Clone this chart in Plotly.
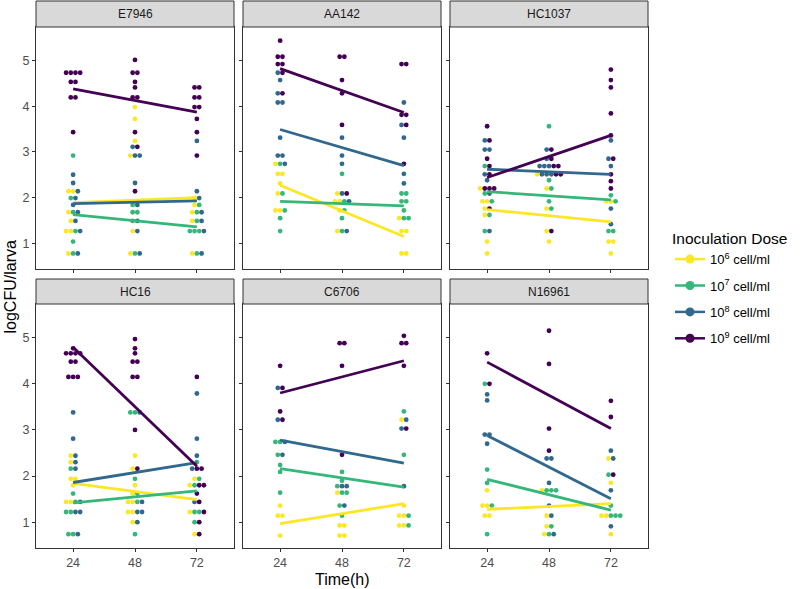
import plotly.graph_objects as go

# ---------------- data ----------------
STRAINS = ["E7946", "AA142", "HC1037", "HC16", "C6706", "N16961"]
TIMES = [24, 48, 72]
DOSES = ["6", "7", "8", "9"]
DOSE_LABELS = ["10<sup>6</sup> cell/ml", "10<sup>7</sup> cell/ml",
               "10<sup>8</sup> cell/ml", "10<sup>9</sup> cell/ml"]
DOSE_COLORS = ["#FDE725", "#35B779", "#31688E", "#440154"]

# rows of stacked dots: (time, logCFU, doses of the dots in that row)
E7946 = [
    (24, 4.73, "9999"), (24, 4.53, "99"), (24, 4.19, "99"), (24, 3.43, "9"), (24, 2.92, "7"),
    (24, 2.50, "8"), (24, 2.32, "8"), (24, 2.14, "668"), (24, 1.99, "78"), (24, 1.84, "8"),
    (24, 1.68, "678"), (24, 1.49, "68"), (24, 1.27, "6678"), (24, 1.04, "7"), (24, 0.78, "678"),
    (48, 5.01, "9"), (48, 4.73, "99"), (48, 4.53, "9"), (48, 4.41, "9"), (48, 4.19, "99"),
    (48, 3.98, "6"), (48, 3.72, "6"), (48, 3.43, "9"), (48, 3.24, "6"), (48, 3.11, "89"),
    (48, 2.92, "688"), (48, 2.32, "8"), (48, 2.14, "9"), (48, 1.84, "78"), (48, 1.68, "77"),
    (48, 1.49, "78"), (48, 1.27, "68"), (48, 0.78, "678"),
    (72, 4.41, "99"), (72, 4.19, "99"), (72, 3.98, "99"), (72, 3.72, "9"), (72, 3.43, "9"),
    (72, 3.24, "8"), (72, 2.92, "9"), (72, 2.14, "8"), (72, 1.99, "68"), (72, 1.84, "67"),
    (72, 1.68, "678"), (72, 1.49, "678"), (72, 1.27, "7778"), (72, 0.78, "678"),
]
AA142 = [
    (24, 5.43, "9"), (24, 5.08, "99"), (24, 4.92, "99"), (24, 4.73, "89"), (24, 4.57, "8"),
    (24, 4.28, "89"), (24, 4.08, "88"), (24, 3.31, "8"), (24, 2.92, "88"), (24, 2.74, "678"),
    (24, 2.52, "66"), (24, 2.31, "6"), (24, 2.09, "67"), (24, 1.72, "667"), (24, 1.55, "7"),
    (24, 1.27, "7"),
    (48, 5.08, "99"), (48, 4.57, "9"), (48, 4.28, "9"), (48, 3.59, "9"), (48, 3.31, "8"),
    (48, 2.92, "8"), (48, 2.74, "8"), (48, 2.52, "7"), (48, 2.09, "689"), (48, 1.92, "6678"),
    (48, 1.72, "67"), (48, 1.55, "7"), (48, 1.27, "678"),
    (72, 4.92, "99"), (72, 4.08, "8"), (72, 3.81, "99"), (72, 3.59, "89"), (72, 3.31, "8"),
    (72, 2.74, "9"), (72, 2.52, "8"), (72, 2.31, "8"), (72, 2.09, "77"), (72, 1.92, "77"),
    (72, 1.72, "7"), (72, 1.55, "677"), (72, 1.27, "66"), (72, 0.78, "66"),
]
HC1037 = [
    (24, 3.56, "9"), (24, 3.25, "89"), (24, 3.05, "88"), (24, 2.85, "9"), (24, 2.69, "79"),
    (24, 2.51, "89"), (24, 2.38, "8"), (24, 2.20, "6999"), (24, 2.09, "78"), (24, 1.92, "667"),
    (24, 1.76, "69"), (24, 1.62, "67"), (24, 1.27, "78"), (24, 1.04, "6"), (24, 0.78, "6"),
    (48, 3.56, "7"), (48, 3.05, "89"), (48, 2.85, "89"), (48, 2.69, "88899"),
    (48, 2.51, "688899"), (48, 2.38, "7"), (48, 2.20, "67"), (48, 1.92, "7"), (48, 1.76, "67"),
    (48, 1.27, "69"), (48, 1.04, "6"),
    (72, 4.80, "9"), (72, 4.57, "9"), (72, 4.41, "9"), (72, 3.84, "9"), (72, 3.36, "9"),
    (72, 3.25, "8"), (72, 2.85, "89"), (72, 2.69, "8"), (72, 2.51, "9"), (72, 2.36, "9"),
    (72, 2.20, "9"), (72, 2.05, "7"), (72, 1.92, "667"), (72, 1.76, "8"), (72, 1.42, "8"),
    (72, 1.27, "77"), (72, 1.04, "66"), (72, 0.78, "6"),
]
HC16 = [
    (24, 4.77, "9"), (24, 4.66, "9999"), (24, 4.48, "99"), (24, 4.15, "999"), (24, 3.38, "8"),
    (24, 2.81, "8"), (24, 2.44, "68"), (24, 2.30, "68"), (24, 2.16, "78"), (24, 1.94, "66"),
    (24, 1.80, "6"), (24, 1.62, "7"), (24, 1.44, "6678"), (24, 1.22, "7788"), (24, 0.74, "778"),
    (48, 4.97, "9"), (48, 4.77, "9"), (48, 4.66, "9"), (48, 4.48, "99"), (48, 4.15, "99"),
    (48, 3.38, "778"), (48, 3.00, "9"), (48, 2.44, "6"), (48, 2.16, "69"), (48, 1.94, "7"),
    (48, 1.80, "6"), (48, 1.62, "67"), (48, 1.44, "6678"), (48, 1.22, "6688"), (48, 1.00, "68"),
    (48, 0.74, "7"),
    (72, 4.15, "9"), (72, 3.79, "8"), (72, 2.81, "8"), (72, 2.44, "8"), (72, 2.30, "7"),
    (72, 2.16, "899"), (72, 1.94, "67"), (72, 1.80, "6799"), (72, 1.62, "9"), (72, 1.44, "89"),
    (72, 1.22, "6779"), (72, 1.00, "79"), (72, 0.74, "69"),
]
C6706 = [
    (24, 4.39, "9"), (24, 3.91, "89"), (24, 3.40, "9"), (24, 3.22, "89"), (24, 2.74, "778"),
    (24, 2.46, "78"), (24, 2.24, "7"), (24, 2.09, "7"), (24, 1.64, "7"), (24, 1.36, "6"),
    (24, 1.14, "66"), (24, 0.71, "6"),
    (48, 4.88, "99"), (48, 4.39, "9"), (48, 2.46, "9"), (48, 2.09, "7"), (48, 1.90, "7"),
    (48, 1.78, "788"), (48, 1.64, "677"), (48, 1.36, "78"), (48, 1.14, "7"), (48, 0.93, "66"),
    (48, 0.71, "66"),
    (72, 5.04, "9"), (72, 4.88, "99"), (72, 4.39, "9"), (72, 3.40, "7"), (72, 3.22, "68"),
    (72, 3.03, "89"), (72, 2.46, "7"), (72, 1.78, "8"), (72, 1.36, "6"), (72, 1.14, "667"),
    (72, 0.93, "667"),
]
N16961 = [
    (24, 4.66, "9"), (24, 4.00, "79"), (24, 3.77, "8"), (24, 3.64, "8"), (24, 2.90, "88"),
    (24, 2.70, "8"), (24, 2.14, "7"), (24, 1.85, "7"), (24, 1.69, "6"), (24, 1.36, "667"),
    (24, 1.14, "66"), (24, 0.74, "7"),
    (48, 5.15, "9"), (48, 4.43, "9"), (48, 3.03, "9"), (48, 2.55, "9"), (48, 2.38, "88"),
    (48, 1.85, "8"), (48, 1.69, "6777"), (48, 1.36, "8"), (48, 1.14, "68"), (48, 0.91, "67"),
    (48, 0.74, "678"),
    (72, 3.63, "9"), (72, 3.28, "9"), (72, 2.55, "8"), (72, 2.38, "68"), (72, 2.03, "79"),
    (72, 1.85, "6"), (72, 1.69, "8"), (72, 1.36, "7"), (72, 1.14, "66777"), (72, 0.91, "8"),
    (72, 0.74, "6"),
]

# linear-trend values at 24 h and 72 h, per dose
FIT_E7946 = {"6": (1.89, 2.00), "7": (1.63, 1.36), "8": (1.87, 1.93), "9": (4.38, 3.87)}
FIT_AA142 = {"6": (2.27, 1.15), "7": (1.92, 1.82), "8": (3.49, 2.70), "9": (4.82, 3.86)}
FIT_HC1037 = {"6": (1.74, 1.47), "7": (2.13, 1.95), "8": (2.62, 2.51), "9": (2.44, 3.36)}
FIT_HC16 = {"6": (1.84, 1.49), "7": (1.42, 1.68), "8": (1.86, 2.29), "9": (4.79, 2.21)}
FIT_C6706 = {"6": (0.97, 1.40), "7": (2.16, 1.76), "8": (2.78, 2.28), "9": (3.80, 4.50)}
FIT_N16961 = {"6": (1.28, 1.40), "7": (1.93, 1.26), "8": (2.88, 1.51), "9": (4.47, 3.03)}

DOTS = [E7946, AA142, HC1037, HC16, C6706, N16961]
FITS = [FIT_E7946, FIT_AA142, FIT_HC1037, FIT_HC16, FIT_C6706, FIT_N16961]

# ---------------- layout constants ----------------
W, H = 800, 589
FONT = "Liberation Sans, Arial, sans-serif"
DX = 1.82          # horizontal dot spacing in x units (hours)
XR = [9.6, 86.4]
YR = [0.44, 5.73]
COL_LEFT = [36, 243, 450]
PANEL_W = 198
ROW_TOP = [27, 304]
ROW_BOT = [269, 548]
STRIP_TOP = [1, 279]

fig = go.Figure()

def pxx(p):
    return p / W

def pxy(p):
    return 1 - p / H

shapes, annotations = [], []
for i, strain in enumerate(STRAINS):
    r, c = divmod(i, 3)
    ax = "" if i == 0 else str(i + 1)
    xa, ya = "x" + ax, "y" + ax
    # dots (centered stacks, ordered by dose)
    xs = {d: [] for d in DOSES}
    ys = {d: [] for d in DOSES}
    for t, v, ds in DOTS[i]:
        ds = "".join(sorted(ds))
        n = len(ds)
        for k, d in enumerate(ds):
            xs[d].append(t + (k - (n - 1) / 2) * DX)
            ys[d].append(v)
    for j, d in enumerate(DOSES):
        fig.add_trace(go.Scatter(
            x=xs[d], y=ys[d], mode="markers", xaxis=xa, yaxis=ya,
            marker=dict(size=4.8, color=DOSE_COLORS[j], line=dict(width=0)),
            showlegend=False, hoverinfo="x+y"))
    for j, d in enumerate(DOSES):
        a, b = FITS[i][d]
        fig.add_trace(go.Scatter(
            x=[TIMES[0], TIMES[-1]], y=[a, b], mode="lines", xaxis=xa, yaxis=ya,
            line=dict(color=DOSE_COLORS[j], width=2.8), showlegend=False, hoverinfo="skip"))

    x0, x1 = COL_LEFT[c], COL_LEFT[c] + PANEL_W
    y0, y1 = ROW_TOP[r], ROW_BOT[r]
    fig.layout["xaxis" + ax] = dict(
        domain=[pxx(x0), pxx(x1)], range=XR, anchor=ya, tickvals=TIMES,
        showticklabels=(r == 1), ticks="outside", ticklen=3, tickcolor="#333333",
        tickfont=dict(size=12.5, color="#4D4D4D", family=FONT),
        showline=True, linecolor="#333333", linewidth=1, mirror=True,
        showgrid=False, zeroline=False, fixedrange=True)
    fig.layout["yaxis" + ax] = dict(
        domain=[pxy(y1), pxy(y0)], range=YR, anchor=xa, tickvals=[1, 2, 3, 4, 5],
        showticklabels=(c == 0), ticks="outside", ticklen=3, tickcolor="#333333",
        tickfont=dict(size=12.5, color="#4D4D4D", family=FONT),
        showline=True, linecolor="#333333", linewidth=1, mirror=True,
        showgrid=False, zeroline=False, fixedrange=True)
    # strip
    shapes.append(dict(type="rect", xref="paper", yref="paper",
                       x0=pxx(x0), x1=pxx(x1), y0=pxy(y0), y1=pxy(STRIP_TOP[r]),
                       fillcolor="#D9D9D9", line=dict(color="#333333", width=1)))
    annotations.append(dict(text=strain, xref="paper", yref="paper",
                            x=pxx((x0 + x1) / 2), y=pxy((y0 + STRIP_TOP[r]) / 2),
                            xanchor="center", yanchor="middle",
                            showarrow=False, font=dict(size=12, color="#1A1A1A", family=FONT)))

# legend entries
for j, d in enumerate(DOSES):
    fig.add_trace(go.Scatter(
        x=[None], y=[None], mode="lines+markers", name=DOSE_LABELS[j],
        legendgroup="g" + d,
        line=dict(color=DOSE_COLORS[j], width=2.5),
        marker=dict(color=DOSE_COLORS[j], size=9), showlegend=True))

annotations.append(dict(text="Time(h)", xref="paper", yref="paper",
                        x=pxx((COL_LEFT[0] + COL_LEFT[2] + PANEL_W) / 2), y=pxy(579),
                        xanchor="center", yanchor="middle",
                        showarrow=False, font=dict(size=16, color="#000000", family=FONT)))
annotations.append(dict(text="logCFU/larva", xref="paper", yref="paper",
                        x=pxx(10), y=pxy((ROW_TOP[0] + ROW_BOT[1]) / 2), textangle=-90,
                        xanchor="center", yanchor="middle",
                        showarrow=False, font=dict(size=16, color="#000000", family=FONT)))

fig.update_layout(
    width=W, height=H, margin=dict(l=0, r=0, t=0, b=0),
    paper_bgcolor="white", plot_bgcolor="white",
    shapes=shapes, annotations=annotations,
    legend=dict(x=pxx(670), y=pxy(224), xanchor="left", yanchor="top",
                title=dict(text="Inoculation Dose", font=dict(size=15.5, color="#000000", family=FONT)),
                font=dict(size=13, color="#000000", family=FONT),
                itemwidth=30, tracegroupgap=6.5, bgcolor="rgba(0,0,0,0)"),
    font=dict(family=FONT),
)

fig.write_html("out.html", config={"displayModeBar": False},
               post_script="document.body.style.margin='0';document.body.style.overflow='hidden';")
